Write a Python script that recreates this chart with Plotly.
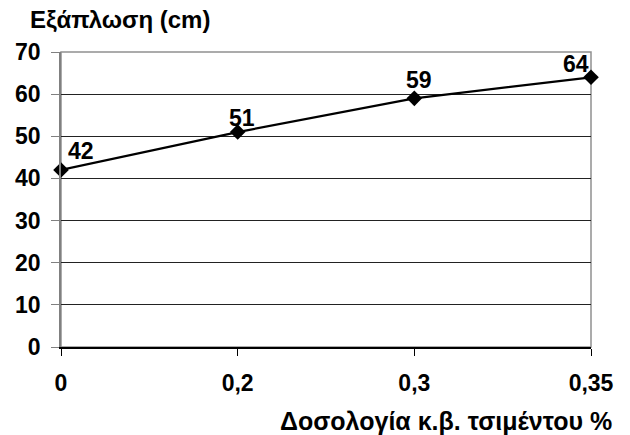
import plotly.graph_objects as go

categories = ["0", "0,2", "0,3", "0,35"]
values = [42, 51, 59, 64]
label_dx = [20, 4, 5, -15]
label_dy = [19, 14, 18, 13]
y_ticks = [0, 10, 20, 30, 40, 50, 60, 70]

xpos = list(range(len(categories)))
FAM = "Liberation Sans, Arial"
font = dict(family=FAM, size=23, color="black")

fig = go.Figure()
fig.add_trace(go.Scatter(
    x=xpos, y=values, mode="lines+markers",
    line=dict(color="black", width=2.2),
    marker=dict(symbol="diamond", size=12, color="black"),
    cliponaxis=False, showlegend=False,
))
for xi, v, dx, dy in zip(xpos, values, label_dx, label_dy):
    fig.add_annotation(x=xi, y=v, text=f"<b>{v}</b>", showarrow=False,
                       xshift=dx, yshift=dy, font=font)

fig.update_layout(
    width=630, height=435,
    margin=dict(l=61, r=39, t=52, b=88),
    plot_bgcolor="white", paper_bgcolor="white",
    font=font,
    xaxis=dict(range=[0, 3], tickvals=xpos, ticktext=[f"<b>{c}</b>" for c in categories],
               showgrid=False, zeroline=False, showline=True, linecolor="black", linewidth=1.5,
               ticks="outside", ticklen=7, tickcolor="black", tickfont=font,
               ticklabelstandoff=8, automargin=False),
    yaxis=dict(range=[0, 70], tickvals=y_ticks, ticktext=[f"<b>{t}</b>" for t in y_ticks],
               showgrid=True, gridcolor="#222222", gridwidth=1, zeroline=False,
               showline=True, linecolor="#808080", linewidth=1.5,
               ticks="outside", ticklen=8, tickcolor="#808080", tickfont=font,
               ticklabelstandoff=6, automargin=False),
)
fig.add_shape(type="rect", xref="paper", yref="paper", x0=0, y0=0, x1=1, y1=1,
              line=dict(color="#909090", width=1.5), layer="below")
fig.add_annotation(xref="paper", yref="paper", x=0, y=1, xshift=-33, yshift=33,
                   xanchor="left", yanchor="middle", showarrow=False,
                   text="<b>Εξάπλωση (cm)</b>", font=dict(family=FAM, size=24))
fig.add_annotation(xref="paper", yref="paper", x=1, y=0, xshift=23, yshift=-74,
                   xanchor="right", yanchor="middle", showarrow=False,
                   text="<b>Δοσολογία κ.β. τσιμέντου %</b>", font=dict(family=FAM, size=25))

fig.write_html("out.html", config={"displayModeBar": False},
               post_script="document.body.style.margin='0';")
